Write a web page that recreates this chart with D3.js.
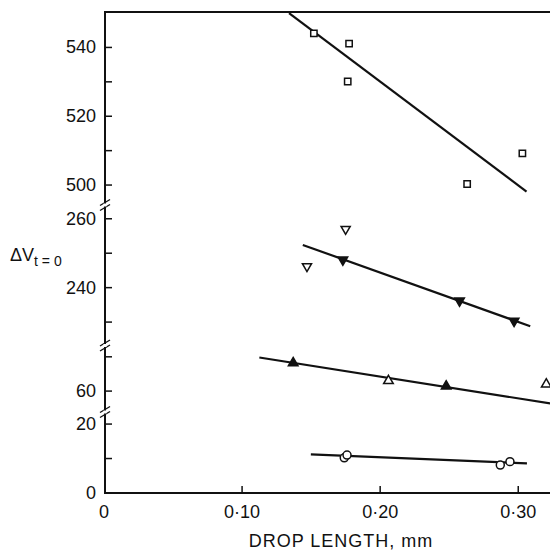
<!DOCTYPE html>
<html>
<head>
<meta charset="utf-8">
<script src="https://cdn.jsdelivr.net/npm/d3@7"></script>
<style>
body { margin: 0; background: #fff; }
text { font-family: "Liberation Sans", Arial, sans-serif; fill: #111; }
</style>
</head>
<body>
<div id="chart"></div>
<script>
// data
const squareOpen = [[0.152, 544.1], [0.1775, 541.1], [0.1765, 530.1], [0.263, 500.3], [0.303, 509.2]];
const squareFit = [[0.134, 550], [0.306, 498.1]];
const downOpen = [[0.147, 246.2], [0.175, 257.0]];
const downFilled = [[0.173, 248.1], [0.2575, 236.2], [0.297, 230.3]];
const downFit = [[0.144, 252.4], [0.3087, 228.8]];
const upFilled = [[0.137, 68.2], [0.2478, 61.4]];
const upOpen = [[0.206, 63.0], [0.3203, 62.0]];
const upFit = [[0.1125, 69.8], [0.3232, 56.4]];
const circleOpen = [[0.174, 10.2], [0.176, 11.0], [0.287, 8.1], [0.294, 9.1]];
const circleFit = [[0.1498, 11.2], [0.3063, 8.6]];

const xTicks = [0.1, 0.2, 0.3];
const segDomains = [[0, 23.5], [53.9, 73.3], [223.2, 264], [494.2, 550.3]];
const segTicks = [[0, 10, 20], [60, 70], [230, 240, 250, 260], [500, 510, 520, 530, 540]];
const segLabels = [[0, 20], [60], [240, 260], [500, 520, 540]];

document.addEventListener("DOMContentLoaded", draw)

function draw(){
    const width = 550, height = 551;
    const left = 105, bottom = 493, top = 12;
    const breaks = [bottom, 412, 345.5, 205, top];

    const svg = d3.select("#chart").append("svg")
        .attr("width", width)
        .attr("height", height);

    const x = d3.scaleLinear().domain([0, 0.323]).range([104, 550]);
    const ys = segDomains.map((d, i) => d3.scaleLinear().domain(d).range([breaks[i], breaks[i + 1]]));

    // frame: left axis, bottom axis, top line
    svg.append("line").attr("x1", left).attr("x2", left).attr("y1", top).attr("y2", bottom)
        .attr("stroke", "#111").attr("stroke-width", 2);
    svg.append("line").attr("x1", left - 1).attr("x2", width).attr("y1", bottom).attr("y2", bottom)
        .attr("stroke", "#111").attr("stroke-width", 2);
    svg.append("line").attr("x1", left - 1).attr("x2", width).attr("y1", top).attr("y2", top)
        .attr("stroke", "#111").attr("stroke-width", 2);

    // y ticks per segment
    ys.forEach((y, i) => {
        const g = svg.append("g");
        g.selectAll("line").data(segTicks[i]).enter().append("line")
            .attr("x1", left).attr("x2", left + 7)
            .attr("y1", d => y(d)).attr("y2", d => y(d))
            .attr("stroke", "#111").attr("stroke-width", 1.5);
        g.selectAll("text").data(segLabels[i]).enter().append("text")
            .attr("x", left - 9).attr("y", d => y(d) + 6)
            .attr("text-anchor", "end")
            .style("font-size", "18px")
            .text(d => d);
    });

    // axis break marks
    breaks.slice(1, 4).forEach(b => {
        [-2.5, 2.5].forEach(o => {
            svg.append("line")
                .attr("x1", left - 5).attr("x2", left + 5)
                .attr("y1", b + o + 3).attr("y2", b + o - 3)
                .attr("stroke", "#111").attr("stroke-width", 1.4);
        });
        svg.append("line").attr("x1", left).attr("x2", left)
            .attr("y1", b - 1.5).attr("y2", b + 1.5)
            .attr("stroke", "#fff").attr("stroke-width", 3);
    });

    // x ticks
    svg.append("g").selectAll("line").data(xTicks).enter().append("line")
        .attr("x1", d => x(d)).attr("x2", d => x(d))
        .attr("y1", bottom).attr("y2", bottom - 7)
        .attr("stroke", "#111").attr("stroke-width", 1.5);
    svg.append("g").selectAll("text").data([0].concat(xTicks)).enter().append("text")
        .attr("x", d => x(d)).attr("y", 518)
        .attr("text-anchor", "middle")
        .style("font-size", "18px")
        .text(d => d === 0 ? "0" : d3.format(".2f")(d).replace(".", "\u00b7"));

    svg.append("text").attr("x", 341).attr("y", 547)
        .attr("text-anchor", "middle")
        .style("font-size", "18px")
        .style("letter-spacing", "1px")
        .text("DROP LENGTH,  mm");

    const ylab = svg.append("text").attr("x", 10).attr("y", 261).style("font-size", "18px");
    ylab.append("tspan").text("\u0394V");
    ylab.append("tspan").attr("dy", 5).style("font-size", "14px").text("t = 0");

    // fit lines
    const fits = [[circleFit, 0], [upFit, 1], [downFit, 2], [squareFit, 3]];
    fits.forEach(([pts, i]) => {
        svg.append("path")
            .attr("d", d3.line().x(d => x(d[0])).y(d => ys[i](d[1]))(pts))
            .attr("stroke", "#111").attr("stroke-width", 2.2).attr("fill", "none");
    });

    function markers(data, seg, type, size, filled, rot){
        svg.append("g").selectAll("path").data(data).enter().append("path")
            .attr("d", d3.symbol().type(type).size(size))
            .attr("transform", d => "translate(" + x(d[0]) + "," + ys[seg](d[1]) + ") rotate(" + rot + ")")
            .attr("fill", filled ? "#111" : "#fff")
            .attr("stroke", "#111").attr("stroke-width", 1.5);
    }
    markers(squareOpen, 3, d3.symbolSquare, 40, false, 0);
    markers(downOpen, 2, d3.symbolTriangle, 36, false, 180);
    markers(downFilled, 2, d3.symbolTriangle, 40, true, 180);
    markers(upOpen, 1, d3.symbolTriangle, 40, false, 0);
    markers(upFilled, 1, d3.symbolTriangle, 40, true, 0);
    markers(circleOpen, 0, d3.symbolCircle, 50, false, 0);
}
</script>
</body>
</html>
